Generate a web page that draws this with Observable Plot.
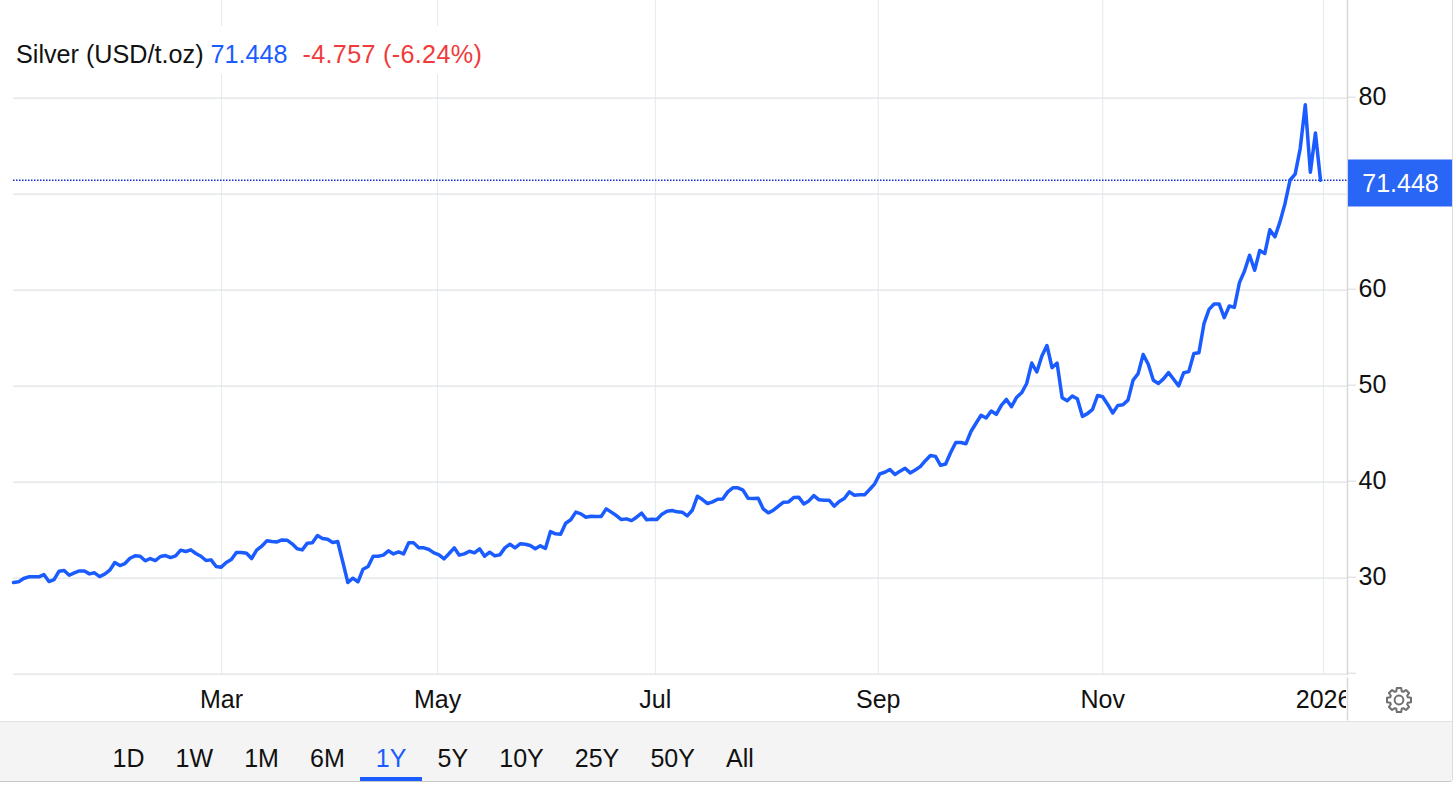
<!DOCTYPE html>
<html>
<head>
<meta charset="utf-8">
<script src="https://cdn.jsdelivr.net/npm/d3@7"></script>
<script src="https://cdn.jsdelivr.net/npm/@observablehq/plot@0.6"></script>
<style>
  html, body { margin: 0; padding: 0; background: #fff; }
  body { width: 1456px; height: 789px; position: relative; overflow: hidden;
         font-family: "Liberation Sans", Arial, sans-serif; color: #111; }
  #card { position: absolute; left: 0; top: 0; width: 1452px; height: 781px;
          border-right: 1px solid #dcdcdc; border-bottom: 1px solid #c8c8c8;
          border-bottom-right-radius: 4px; overflow: hidden; box-sizing: content-box; }
  #chart { position: absolute; left: 0; top: 0; width: 1456px; }
  #chart svg { display: block; max-width: none; overflow: visible; background: transparent; }
  #header { position: absolute; left: 16px; top: 26px; height: 48px; line-height: 56px;
            font-size: 25.2px; white-space: pre; background: #fff; padding-right: 10px; }
  #header .last { color: #1a5cff; }
  #header .chg { color: #ef3b3b; margin-left: 15px; letter-spacing: 0.3px; }
  #toolbar { position: absolute; left: 0; top: 721px; width: 1452px; height: 60px;
             background: #f4f4f4; border-top: 1px solid #e2e2e2; box-sizing: border-box;
             display: flex; padding-left: 97px; font-size: 25px; }
  #toolbar span { padding: 0 15.55px; line-height: 72px; height: 60px; box-sizing: border-box;
                  position: relative; white-space: pre; }
  #toolbar span.on { color: #1a5cff; }
  #toolbar span.on::after { content: ""; position: absolute; left: 0; right: 0; bottom: 1px;
                            height: 4px; background: #1a5cff; }
  #gear { position: absolute; left: 1385px; top: 686px; }
</style>
</head>
<body>
<div id="card">
  <div id="chart"></div>
  <div id="header"></div>
  <svg id="gear" width="28" height="28" viewBox="-14 -14 28 28"></svg>
  <div id="toolbar"></div>
</div>
<script>
const instrument = "Silver (USD/t.oz)";
const lastPrice = 71.448;
const change = "-4.757 (-6.24%)";
const ranges = ["1D", "1W", "1M", "6M", "1Y", "5Y", "10Y", "25Y", "50Y", "All"];
const activeRange = "1Y";

const priceTicks = [20, 30, 40, 50, 60, 70, 80];
const monthLabels = ["Mar", "May", "Jul", "Sep", "Nov", "2026"];
const monthTradingDay = [41.06, 83.7, 126.7, 170.7, 215, 258.6];

// Daily closes, January to December, one value per trading day
const pricesQ1 = [29.55,29.62,29.97,30.14,30.14,30.14,30.38,29.65,29.86,30.73,30.80,30.31,30.56,30.76,30.76,30.45,30.56,30.17,30.42,30.83,31.63,31.32,31.53,32.08,32.33,32.29,31.81,32.05,31.84,32.26,32.36,32.15,32.33,32.92,32.78,32.95,32.57,32.29,31.84,31.91,31.22,31.15,31.63,31.94,32.67,32.67,32.60,32.05,32.92,33.33,33.89,33.82,33.78,33.99,33.96,33.58,33.06,32.95,33.65,33.68,34.44,34.13,34.06,33.72,33.82];
const pricesQ2 = [31.7,29.55,30.0,29.62,30.94,31.22,32.29,32.29,32.40,32.85,32.53,32.74,32.53,33.68,33.68,33.16,33.16,32.99,32.64,32.43,32.01,32.57,33.16,32.40,32.53,32.81,32.64,33.06,32.29,32.71,32.33,32.43,33.16,33.54,33.16,33.58,33.54,33.40,33.06,33.37,33.09,34.86,34.62,34.58,35.73,36.08,36.88,36.70,36.35,36.46,36.42,36.42,37.22,36.88,36.53,36.11,36.18,36.0,36.35,36.77,36.08,36.15,36.11];
const pricesQ3 = [36.67,36.98,37.05,36.91,36.88,36.49,37.08,38.54,38.19,37.78,37.95,38.23,38.26,38.99,39.41,39.41,39.17,38.33,38.30,38.33,37.22,36.81,37.08,37.5,37.92,37.95,38.40,38.44,37.74,38.05,38.61,38.16,38.13,38.13,37.5,37.99,38.30,38.99,38.65,38.68,38.68,39.24,39.83,40.87,41.04,41.32,40.80,41.15,41.45,40.97,41.28,41.62,42.24,42.79,42.69,41.76,41.90,43.10,44.14,44.14,44.0,45.28,46.14,46.97,46.69];
const pricesQ4 = [47.41,47.07,48.0,48.62,47.86,48.83,49.31,50.28,52.41,51.48,53.14,54.24,51.93,52.41,48.79,48.48,48.97,48.69,46.86,47.14,47.59,49.03,48.90,48.10,47.21,48.0,48.07,48.55,50.62,51.31,53.31,52.28,50.62,50.28,50.76,51.41,50.72,50.03,51.41,51.52,53.41,53.48,56.51,58.0,58.56,58.56,57.14,58.35,58.21,60.79,62.0,63.64,62.08,64.13,63.82,66.29,65.56,67.12,69.04,71.48,72.10,74.78,79.31,72.28,76.38,71.45];

const prices = [...pricesQ1, ...pricesQ2, ...pricesQ3, ...pricesQ4];
const series = prices.map((price, day) => ({day, price}));

const BLUE = "#1a5cff";
const axisEnd = (1347 - 13) * (prices.length - 1) / (1320 - 13);
const pxPerDay = (1320 - 13) / (prices.length - 1);
const dayAt = px => (px - 13) / pxPerDay;
const priceAt = px => 30 + (578.2 - px) / 9.6;
const yTop = priceAt(0.5);
const yBottom = priceAt(675.5);

const chart = Plot.plot({
  width: 1456,
  height: 721,
  marginLeft: 13,
  marginRight: 109,
  marginTop: 0,
  marginBottom: 46,
  style: {fontFamily: "'Liberation Sans', Arial, sans-serif", color: "#111", background: "transparent"},
  x: {type: "linear", domain: [0, axisEnd], axis: null},
  y: {type: "linear", domain: [yBottom, yTop], axis: null},
  marks: [
    Plot.ruleX(monthTradingDay, {y1: yBottom, y2: yTop, stroke: "#e6edf3", strokeWidth: 1.2}),
    Plot.gridY(priceTicks, {stroke: "#e0e2e4", strokeOpacity: 1, strokeWidth: 1.2}),
    Plot.ruleY([lastPrice], {stroke: "#1430c8", strokeWidth: 1.4, strokeDasharray: "1.5 1.5"}),
    Plot.line(series, {x: "day", y: "price", stroke: BLUE, strokeWidth: 3.5, curve: "linear",
                       strokeLinejoin: "round"}),
    Plot.text(monthLabels, {x: (d, i) => monthTradingDay[i], y: () => priceAt(700), text: d => d,
                            fontSize: 25, fill: "#111", textAnchor: "middle"}),
    Plot.rect([0], {x1: () => dayAt(1346), x2: () => dayAt(1356), y1: () => priceAt(720), y2: () => priceAt(680),
                    fill: "#fff"}),
    Plot.ruleX([axisEnd], {y1: yBottom, y2: yTop, stroke: "#d8d8d8", strokeWidth: 1.5}),
    Plot.ruleX([axisEnd], {y1: () => priceAt(678), y2: () => priceAt(721), stroke: "#d8d8d8", strokeWidth: 1.5}),
    Plot.axisY(priceTicks, {
      anchor: "right", label: null, tickSize: 8, tickPadding: 3, fontSize: 25,
      stroke: "#d8d8d8", fill: "#111", dy: -1,
      tickFormat: d => d === 20 || d === 70 ? "" : String(d)
    }),
    Plot.rect([0], {x1: () => dayAt(1348), x2: () => dayAt(1452), y1: () => priceAt(207), y2: () => priceAt(160),
                    fill: "#2a66f5"}),
    Plot.text([lastPrice], {x: () => dayAt(1400), y: () => priceAt(184), text: d => d.toFixed(3),
                            fontSize: 25, fill: "#fff", textAnchor: "middle"})
  ]
});
document.getElementById("chart").appendChild(chart);

const header = document.getElementById("header");
[[instrument + " ", ""], [lastPrice.toFixed(3), "last"], [change, "chg"]].forEach(([t, c]) => {
  const s = document.createElement("span");
  s.textContent = t;
  if (c) s.className = c;
  header.appendChild(s);
});

const toolbar = document.getElementById("toolbar");
ranges.forEach(r => {
  const s = document.createElement("span");
  s.textContent = r;
  if (r === activeRange) s.className = "on";
  toolbar.appendChild(s);
});

// Settings gear icon
const gear = d3.select("#gear");
const pts = [];
for (let k = 0; k < 8; k++) {
  const a = k * Math.PI / 4;
  [[-0.30, 9.2], [-0.18, 12.2], [0.18, 12.2], [0.30, 9.2]].forEach(([o, r]) => {
    pts.push([r * Math.sin(a + o), -r * Math.cos(a + o)]);
  });
}
gear.append("path").attr("d", "M" + pts.map(p => p.map(v => v.toFixed(2)).join(",")).join("L") + "Z")
  .attr("fill", "none").attr("stroke", "#6f6f6f").attr("stroke-width", 2).attr("stroke-linejoin", "round");
gear.append("circle").attr("r", 4.4).attr("fill", "none").attr("stroke", "#6f6f6f").attr("stroke-width", 2);
</script>
</body>
</html>
